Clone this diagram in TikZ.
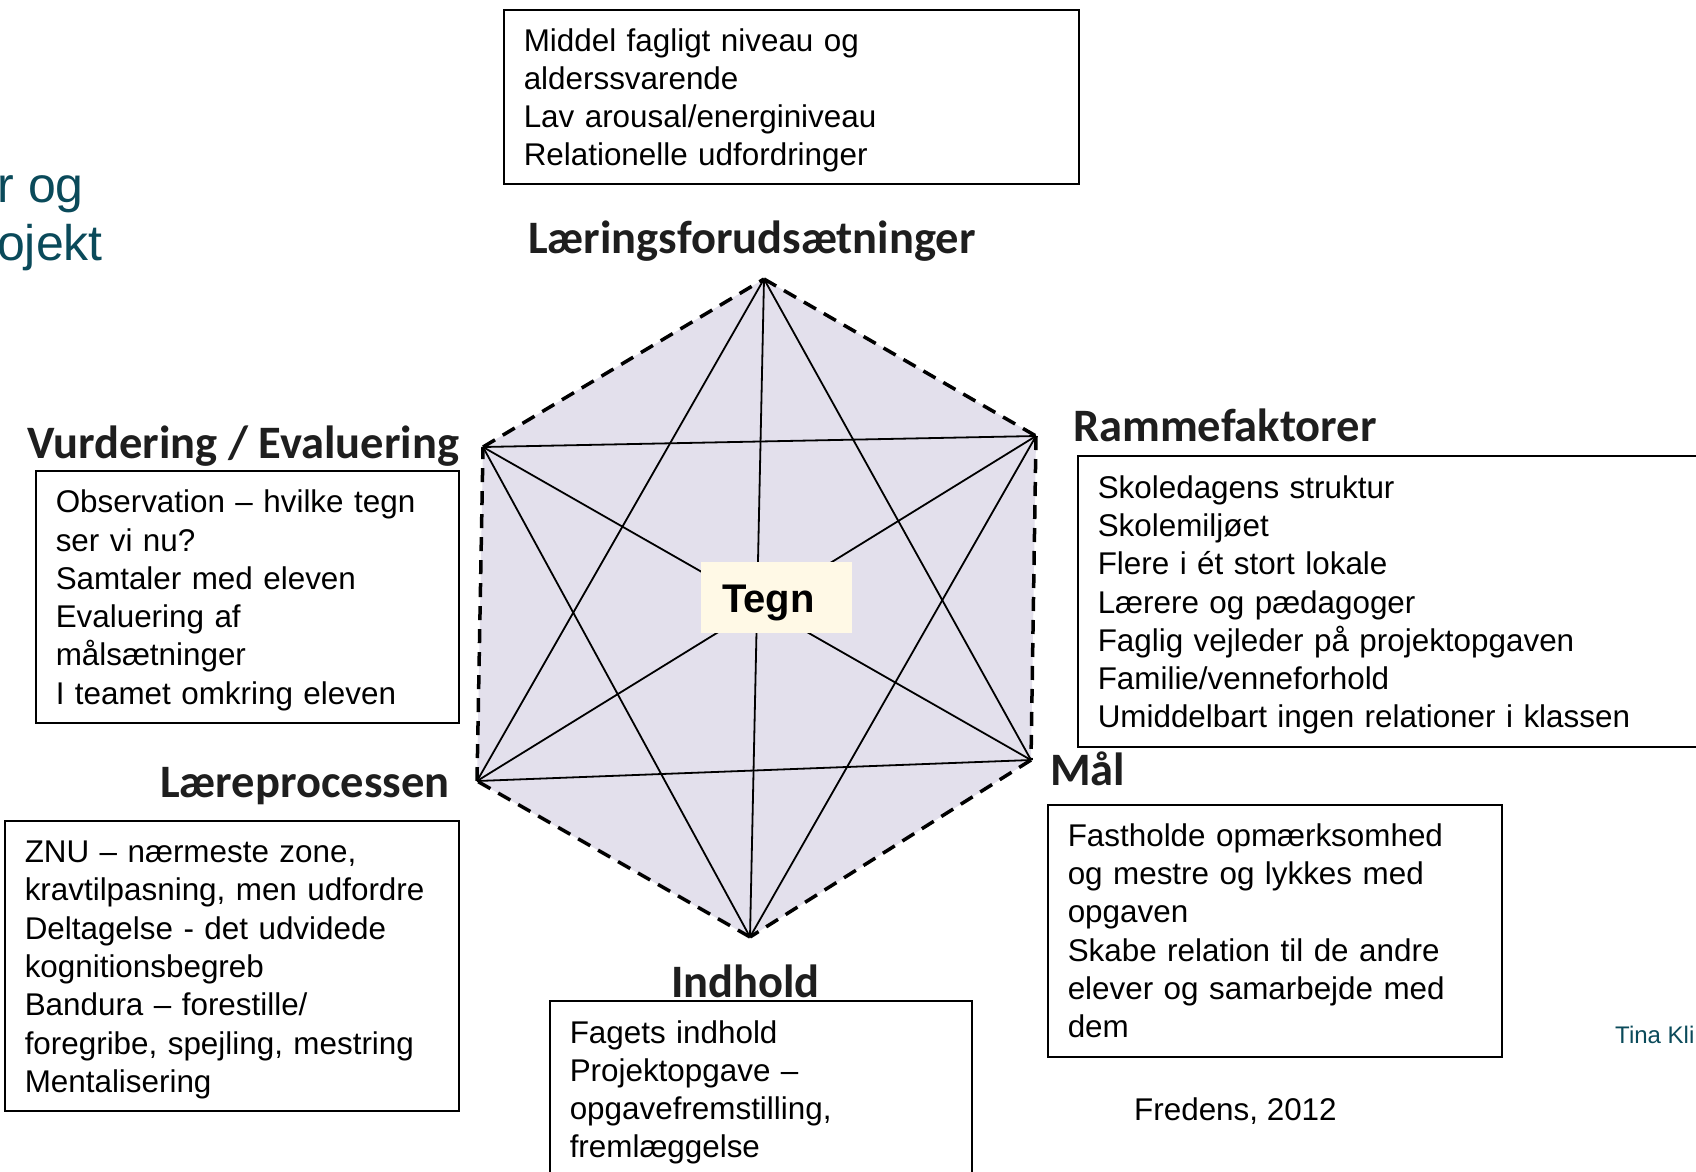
\documentclass[tikz,border=0pt]{standalone}
\usepackage{fontspec}
\setmainfont{Liberation Sans}
\newfontfamily\lblfont{Carlito}
\definecolor{hexfill}{RGB}{227,224,236}
\definecolor{tegnfill}{RGB}{255,249,230}
\definecolor{slideteal}{RGB}{10,74,90}
\definecolor{lblgray}{RGB}{30,30,30}
\newcommand\bodyfont{\fontsize{31.4}{38.3}\selectfont}
\newcommand\topstrut{\rule{0pt}{30pt}}
\tikzset{
  infobox/.style={draw, line width=1.5pt, inner xsep=20pt, inner ysep=0pt,
    align=left, anchor=north west, font=\bodyfont},
  lbl/.style={font=\lblfont\bfseries\fontsize{46.5}{50}\selectfont, inner sep=0pt, text=lblgray},
  hexedge/.style={dash pattern=on 14pt off 9pt, line width=3.5pt},
  diag/.style={line width=1.8pt},
  plain/.style={inner sep=0pt, font=\bodyfont},
}
\begin{document}
\begin{tikzpicture}[x=1pt,y=-1pt]
\useasboundingbox (0,0) rectangle (1696,1171);
\fill[white] (0,0) rectangle (1696,1171);

% slide text at left and right edges
\node[inner sep=0pt, anchor=base east, text=slideteal, font=\fontsize{50}{58}\selectfont] (t1) at (84,202) {r og};
\node[inner sep=0pt, anchor=base east, text=slideteal, font=\fontsize{50}{58}\selectfont] (t2) at (103,260) {ojekt};
\node[inner sep=0pt, anchor=base west, text=slideteal, font=\fontsize{24}{28}\selectfont] (tina) at (1615,1043) {Tina Kli};

% hexagon corners
\coordinate (T) at (764,279);
\coordinate (UR) at (1036,436);
\coordinate (LR) at (1031,760);
\coordinate (B) at (750,937);
\coordinate (LL) at (477,781);
\coordinate (UL) at (483,447);

\fill[hexfill] (T) -- (UR) -- (LR) -- (B) -- (LL) -- (UL) -- cycle;

% diagonals
\draw[diag] (T) -- (B);
\draw[diag] (UR) -- (LL);
\draw[diag] (LR) -- (UL);
\draw[diag] (T) -- (LR);
\draw[diag] (UR) -- (B);
\draw[diag] (LR) -- (LL);
\draw[diag] (B) -- (UL);
\draw[diag] (LL) -- (T);
\draw[diag] (UL) -- (UR);

% dashed hexagon edges
\draw[hexedge] (T) -- (UR);
\draw[hexedge] (UR) -- (LR);
\draw[hexedge] (LR) -- (B);
\draw[hexedge] (B) -- (LL);
\draw[hexedge] (LL) -- (UL);
\draw[hexedge] (UL) -- (T);

% centre
\node[fill=tegnfill, minimum width=151pt, minimum height=71pt, inner sep=0pt,
  font=\bfseries\fontsize{40}{44}\selectfont] (tegn) at (776.5,597.5)
  {\raisebox{-5pt}[\height][\depth]{Tegn}\hspace*{16pt}};

% labels
\node[lbl, anchor=base] (lforud) at (752,253) {Læringsforudsætninger};
\node[lbl, anchor=base west] (lramme) at (1073,441) {Rammefaktorer};
\node[lbl, anchor=base west] (lmaal) at (1050,785) {Mål};
\node[lbl, anchor=base west] (lvurd) at (27,458) {Vurdering / Evaluering};
\node[lbl, anchor=base west] (llaere) at (160,797) {Læreprocessen};
\node[lbl, anchor=base west] (lindh) at (671,997) {Indhold};

% boxes
\node[infobox, minimum width=575pt, minimum height=174pt, text width=535pt] (bforud) at (503,9)
  {\topstrut Middel fagligt niveau og\\alderssvarende\\Lav arousal/energiniveau\\Relationelle udfordringer};
\node[infobox, minimum width=640pt, minimum height=291pt, text width=600pt] (bramme) at (1077,455)
  {\topstrut Skoledagens struktur\\Skolemiljøet\\Flere i ét stort lokale\\Lærere og pædagoger\\Faglig vejleder på projektopgaven\\Familie/venneforhold\\Umiddelbart ingen relationer i klassen};
\node[infobox, minimum width=454pt, minimum height=252pt, text width=414pt] (bmaal) at (1047,804)
  {Fastholde opmærksomhed\\og mestre og lykkes med\\opgaven\\Skabe relation til de andre\\elever og samarbejde med\\dem};
\node[infobox, minimum width=423pt, minimum height=252pt, text width=383pt] (bvurd) at (35,470)
  {\topstrut Observation – hvilke tegn\\ser vi nu?\\Samtaler med eleven\\Evaluering af\\målsætninger\\I teamet omkring eleven};
\node[infobox, minimum width=454pt, minimum height=290pt, text width=414pt] (blaere) at (4,820)
  {\topstrut ZNU – nærmeste zone,\\kravtilpasning, men udfordre\\Deltagelse - det udvidede\\kognitionsbegreb\\Bandura – forestille/\\foregribe, spejling, mestring\\Mentalisering};
\node[infobox, minimum width=422pt, minimum height=176pt, text width=382pt] (bindh) at (549,1000)
  {\topstrut Fagets indhold\\Projektopgave –\\opgavefremstilling,\\fremlæggelse};

\node[plain, anchor=base west] (fredens) at (1134,1120) {Fredens, 2012};
\end{tikzpicture}
\end{document}
